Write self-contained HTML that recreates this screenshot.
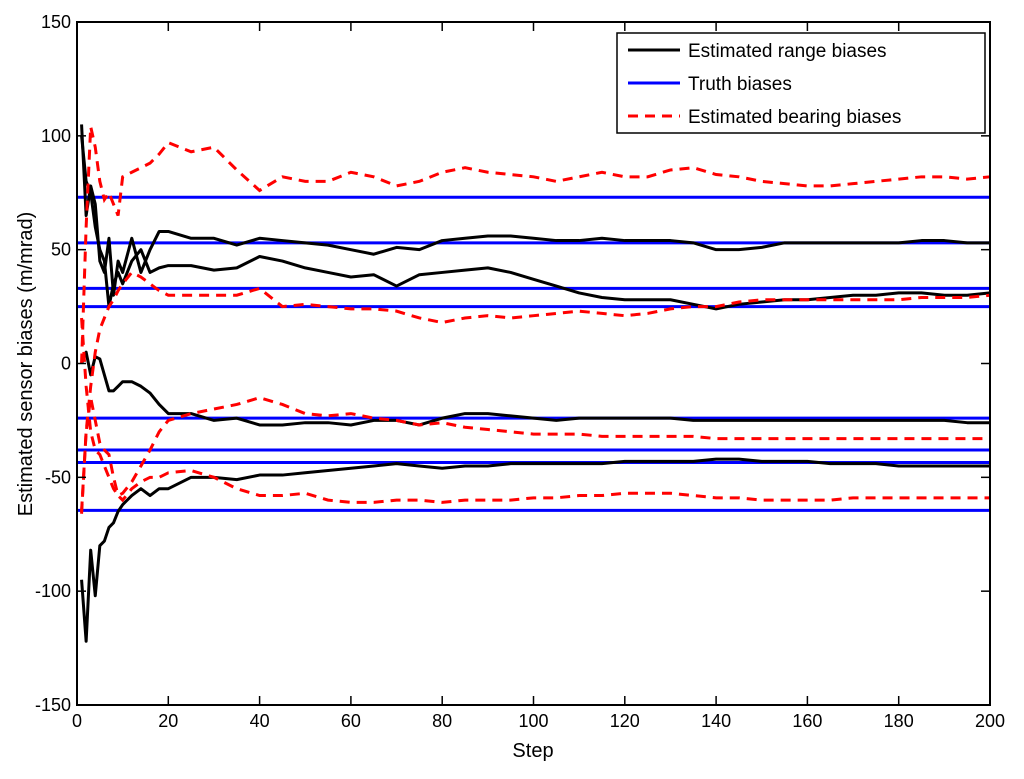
<!DOCTYPE html>
<html><head><meta charset="utf-8"><style>body{margin:0;background:#fff}svg{display:block;font-family:"Liberation Sans",sans-serif}</style></head>
<body>
<svg id="chart" width="1024" height="779">
<rect x="0" y="0" width="1024" height="779" fill="#fff"/>
<g id="plot"></g>
<g id="axes"></g>
</svg>
<script>
const steps=[1,2,3,4,5,6,7,8,9,10,12,14,16,18,20,25,30,35,40,45,50,55,60,65,70,75,80,85,90,95,100,105,110,115,120,125,130,135,140,145,150,155,160,165,170,175,180,185,190,195,200];
const rangeA=[105,65,78,70,45,40,55,30,45,40,55,40,50,58,58,55,55,52,55,54,53,52,50,48,51,50,54,55,56,56,55,54,54,55,54,54,54,53,50,50,51,53,53,53,53,53,53,54,54,53,53];
const rangeB=[100,80,75,60,50,45,25,35,40,35,45,50,40,42,43,43,41,42,47,45,42,40,38,39,34,39,40,41,42,40,37,34,31,29,28,28,28,26,24,26,27,28,28,29,30,30,31,31,30,30,31];
const rangeC=[0,5,-5,3,2,-5,-12,-12,-10,-8,-8,-10,-13,-18,-22,-22,-25,-24,-27,-27,-26,-26,-27,-25,-25,-27,-24,-22,-22,-23,-24,-25,-24,-24,-24,-24,-24,-25,-25,-25,-25,-25,-25,-25,-25,-25,-25,-25,-25,-26,-26];
const rangeD=[-95,-122,-82,-102,-80,-78,-72,-70,-65,-62,-58,-55,-58,-55,-55,-50,-50,-51,-49,-49,-48,-47,-46,-45,-44,-45,-46,-45,-45,-44,-44,-44,-44,-44,-43,-43,-43,-43,-42,-42,-43,-43,-43,-44,-44,-44,-45,-45,-45,-45,-45];
const bearA=[0,60,104,95,80,72,75,70,65,82,84,86,88,92,97,93,95,85,76,82,80,80,84,82,78,80,84,86,84,83,82,80,82,84,82,82,85,86,83,82,80,79,78,78,79,80,81,82,82,81,82];
const bearB=[-65,-30,-10,5,15,20,25,28,32,35,40,38,35,32,30,30,30,30,33,25,26,25,24,24,23,20,18,20,21,20,21,22,23,22,21,22,24,25,25,27,28,28,28,28,28,28,28,29,29,29,30];
const bearC=[20,-10,-30,-38,-40,-45,-50,-55,-58,-57,-52,-45,-38,-30,-25,-22,-20,-18,-15,-18,-22,-23,-22,-24,-25,-27,-26,-28,-29,-30,-31,-31,-31,-32,-32,-32,-32,-32,-33,-33,-33,-33,-33,-33,-33,-33,-33,-33,-33,-33,-33];
const bearD=[-66,-30,-15,-25,-35,-38,-40,-50,-58,-60,-55,-52,-50,-50,-48,-47,-50,-55,-58,-58,-57,-60,-61,-61,-60,-60,-61,-60,-60,-60,-59,-59,-58,-58,-57,-57,-57,-58,-59,-59,-60,-60,-60,-60,-59,-59,-59,-59,-59,-59,-59];
const truth=[73,53,33,25,-24,-38,-43.5,-64.5];
const xTicks=[0,20,40,60,80,100,120,140,160,180,200];
const yTicks=[-150,-100,-50,0,50,100,150];

const L=77,R=990,T=22,B=705;
const xs=v=>L+(v-0)/200*(R-L);
const ys=v=>B-(v+150)/300*(B-T);
const NS="http://www.w3.org/2000/svg";
const plot=document.getElementById('plot'),axes=document.getElementById('axes');
function mk(tag,attrs,parent){const e=document.createElementNS(NS,tag);for(const k in attrs)e.setAttribute(k,attrs[k]);parent.appendChild(e);return e;}

truth.forEach((t,i)=>{
 const l=mk('line',{x1:L,x2:R,y1:ys(t),y2:ys(t),stroke:'#0000ff','stroke-width':3},plot);
 
 
});
[rangeA,rangeB,rangeC,rangeD].forEach(s=>{
 const p=mk('polyline',{points:s.map((v,i)=>xs(steps[i])+','+ys(v)).join(' '),fill:'none',stroke:'#000','stroke-width':3,'stroke-linejoin':'round'},plot);
 
 
});
[bearA,bearB,bearC,bearD].forEach(s=>{
 const p=mk('polyline',{points:s.map((v,i)=>xs(steps[i])+','+ys(v)).join(' '),fill:'none',stroke:'#ff0000','stroke-width':3,'stroke-dasharray':'10,7'},plot);
 
 
});
const box=mk('rect',{x:L,y:T,width:R-L,height:B-T,fill:'none',stroke:'#000','stroke-width':2},axes);


xTicks.forEach(t=>{
 const x=xs(t);
 mk('line',{x1:x,x2:x,y1:B,y2:B-9,stroke:'#000','stroke-width':1.5},axes);
 mk('line',{x1:x,x2:x,y1:T,y2:T+9,stroke:'#000','stroke-width':1.5},axes);
 const tx=mk('text',{x:x,y:B+22,'text-anchor':'middle','font-size':18},axes);
 tx.textContent=t;
 
 
});
yTicks.forEach(t=>{
 const y=ys(t);
 mk('line',{x1:L,x2:L+9,y1:y,y2:y,stroke:'#000','stroke-width':1.5},axes);
 mk('line',{x1:R,x2:R-9,y1:y,y2:y,stroke:'#000','stroke-width':1.5},axes);
 const tx=mk('text',{x:L-6,y:y+6,'text-anchor':'end','font-size':18},axes);
 tx.textContent=t;
 
 
});
</script>
<svg style="position:absolute;left:0;top:0" width="1024" height="779">
<text x="533" y="757" text-anchor="middle" font-size="20">Step</text>
<text transform="translate(32,364) rotate(-90)" text-anchor="middle" font-size="20">Estimated sensor biases (m/mrad)</text>
<g>
<rect x="617" y="33" width="368" height="100" fill="#fff" stroke="#000" stroke-width="1.5"/>
<g><line x1="628" x2="680" y1="50" y2="50" stroke="#000" stroke-width="3"/><text x="688" y="57" font-size="19">Estimated range biases</text></g>
<g><line x1="628" x2="680" y1="83" y2="83" stroke="#0000ff" stroke-width="3"/><text x="688" y="90" font-size="19">Truth biases</text></g>
<g><line x1="628" x2="680" y1="116" y2="116" stroke="#ff0000" stroke-width="3" stroke-dasharray="10,7"/><text x="688" y="123" font-size="19">Estimated bearing biases</text></g>
</g>
</svg>
</body></html>
